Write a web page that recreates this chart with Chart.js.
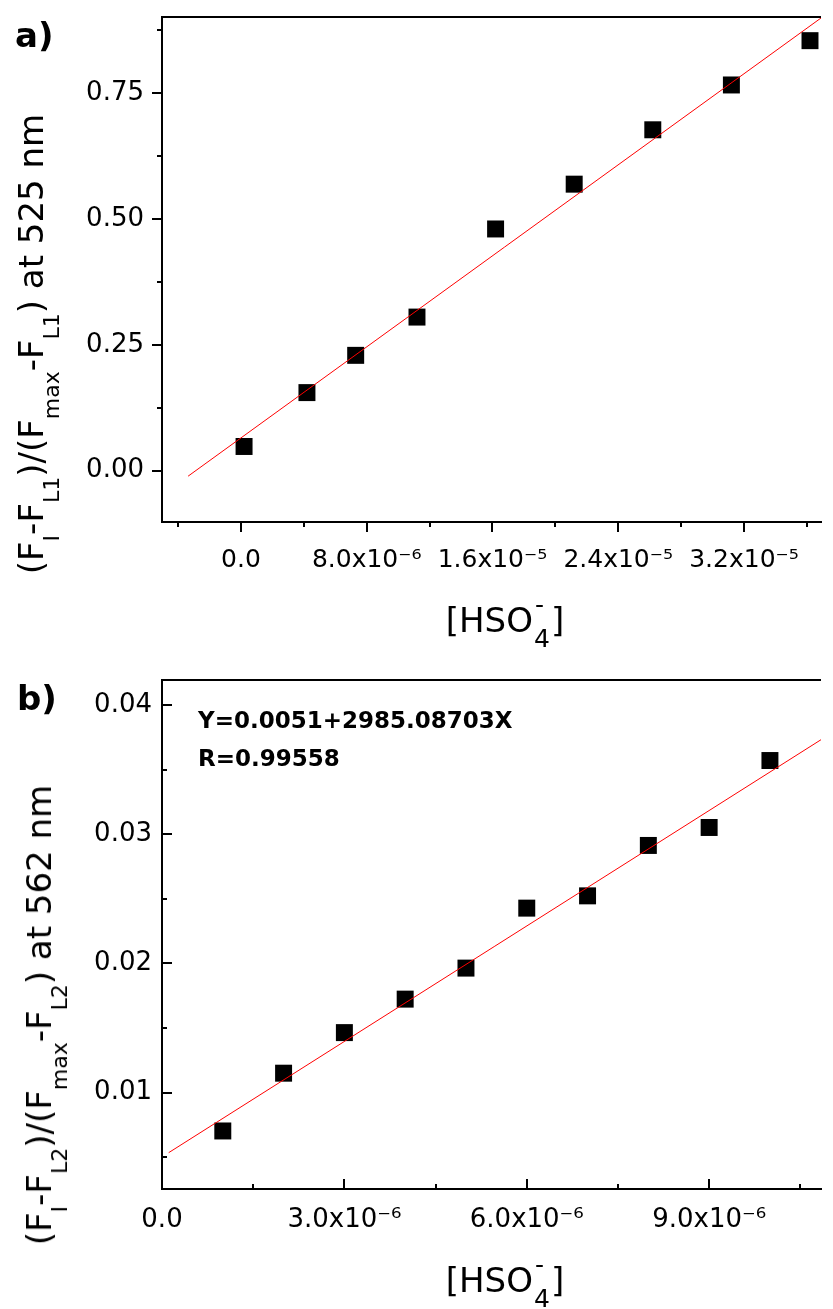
<!DOCTYPE html>
<html lang="en">

<head>
    <meta charset="UTF-8">
    <title>HSO4- titration</title>
    <script src="https://cdn.jsdelivr.net/npm/chart.js"></script>
    <style>
        body { margin: 0; background: #fff; }
        .page { position: relative; width: 833px; height: 1309px; overflow: hidden; font-family: 'DejaVu Sans'; color: #000; }
        .box { position: absolute; left: 0; width: 833px; }
        .pl { position: absolute; font: bold 34px 'DejaVu Sans'; line-height: 1; }
        .yt { position: absolute; font: 34px 'DejaVu Sans'; line-height: 1; white-space: nowrap;
              transform: translate(-50%, -50%) rotate(-90deg); }
        .yt .sb { font-size: 22px; position: relative; top: 16px; }
        .xt { position: absolute; font: 34px 'DejaVu Sans'; line-height: 1; white-space: nowrap; transform: translateX(-50%); }
        .ss { display: inline-block; position: relative; width: 18px; height: 0; }
        .ss span { position: absolute; font-size: 25px; line-height: 1; }
        .ss .up { left: 2px; top: -40px; }
        .ss .dn { left: 1px; top: -6px; }
        .eq { position: absolute; left: 198px; font: bold 23px 'DejaVu Sans'; line-height: 1; white-space: nowrap; }
    </style>
</head>

<body>
    <div class="page">
        <div class="box" style="top:0;height:655px"><canvas id="chartA"></canvas></div>
        <div class="box" style="top:655px;height:654px"><canvas id="chartB"></canvas></div>

        <div class="pl" style="left:15px;top:18px">a)</div>
        <div class="pl" style="left:17px;top:681px">b)</div>

        <div class="yt" style="left:31px;top:344px">(F<span class="sb">I</span>-F<span class="sb">L1</span>)/(F<span class="sb">max</span>-F<span class="sb">L1</span>) at 525 nm</div>
        <div class="yt" style="left:39px;top:1015px">(F<span class="sb">I</span>-F<span class="sb">L2</span>)/(F<span class="sb">max</span>-F<span class="sb">L2</span>) at 562 nm</div>

        <div class="xt" style="left:505px;top:603px">[HSO<span class="ss"><span class="up">-</span><span class="dn">4</span></span>]</div>
        <div class="xt" style="left:505px;top:1263px">[HSO<span class="ss"><span class="up">-</span><span class="dn">4</span></span>]</div>

        <div class="eq" style="top:709px">Y=0.0051+2985.08703X</div>
        <div class="eq" style="top:747px">R=0.99558</div>
    </div>

    <script>
        // panel a) - 525 nm
        const concA = [0.2e-6, 4.2e-6, 7.3e-6, 11.2e-6, 16.2e-6, 21.2e-6, 26.2e-6, 31.2e-6, 36.2e-6];
        const ratioA = [0.048, 0.155, 0.229, 0.305, 0.480, 0.569, 0.677, 0.766, 0.854];
        const fitConcA = [-3.36e-6, 36.9e-6];
        const fitRatioA = [-0.011, 0.899];

        const xTicksA = [0, 8e-6, 1.6e-5, 2.4e-5, 3.2e-5];
        const xLabelsA = ['0.0', '8.0x10⁻⁶', '1.6x10⁻⁵', '2.4x10⁻⁵', '3.2x10⁻⁵'];
        const xMinorA = [-4e-6, 4e-6, 12e-6, 20e-6, 28e-6, 36e-6];
        const yTicksA = [0, 0.25, 0.5, 0.75];
        const yLabelsA = ['0.00', '0.25', '0.50', '0.75'];
        const yMinorA = [0.125, 0.375, 0.625, 0.875];

        // panel b) - 562 nm
        const concB = [1e-6, 2e-6, 3e-6, 4e-6, 5e-6, 6e-6, 7e-6, 8e-6, 9e-6, 10e-6];
        const ratioB = [0.00704, 0.01151, 0.01465, 0.01724, 0.01964, 0.02428, 0.02523, 0.02913, 0.03052, 0.03570];
        const fitConcB = [0.11e-6, 10.84e-6];
        const fitRatioB = [0.00536, 0.03731];

        const xTicksB = [0, 3e-6, 6e-6, 9e-6];
        const xLabelsB = ['0.0', '3.0x10⁻⁶', '6.0x10⁻⁶', '9.0x10⁻⁶'];
        const xMinorB = [1.5e-6, 4.5e-6, 7.5e-6, 10.5e-6];
        const yTicksB = [0.01, 0.02, 0.03, 0.04];
        const yLabelsB = ['0.01', '0.02', '0.03', '0.04'];
        const yMinorB = [0.005, 0.015, 0.025, 0.035];

        Chart.defaults.font.family = 'DejaVu Sans';
        Chart.defaults.color = '#000';

        function toPoints(xs, ys) {
            return xs.map(function (v, i) { return { x: v, y: ys[i] }; });
        }

        // top frame line + minor/major tick marks (Origin style)
        const frameTicks = {
            id: 'frameTicks',
            afterDraw(chart, args, o) {
                const ctx = chart.ctx;
                const a = chart.chartArea;
                const x = chart.scales.x, y = chart.scales.y;
                const s = o.inward ? 1 : -1;
                ctx.save();
                ctx.strokeStyle = '#000';
                ctx.lineWidth = 2;
                ctx.beginPath();
                ctx.moveTo(a.left - 1, a.top);
                ctx.lineTo(a.right, a.top);
                ctx.stroke();

                ctx.beginPath();
                o.xMajor.forEach(function (v) {
                    const p = Math.round(x.getPixelForValue(v));
                    ctx.moveTo(p, a.bottom); ctx.lineTo(p, a.bottom - s * o.major);
                });
                o.xMinor.forEach(function (v) {
                    const p = Math.round(x.getPixelForValue(v));
                    ctx.moveTo(p, a.bottom); ctx.lineTo(p, a.bottom - s * o.minor);
                });
                o.yMajor.forEach(function (v) {
                    const p = Math.round(y.getPixelForValue(v));
                    ctx.moveTo(a.left, p); ctx.lineTo(a.left + s * o.major, p);
                });
                o.yMinor.forEach(function (v) {
                    const p = Math.round(y.getPixelForValue(v));
                    ctx.moveTo(a.left, p); ctx.lineTo(a.left + s * o.minor, p);
                });
                ctx.stroke();
                ctx.restore();
            }
        };

        function noPad(s) {
            s.paddingTop = 0; s.paddingBottom = 0;
            s.paddingLeft = 0; s.paddingRight = 0;
        }

        function makeChart(id, cfg) {
            return new Chart(document.getElementById(id), {
                type: 'scatter',
                data: {
                    datasets: [{
                        data: toPoints(cfg.xs, cfg.ys),
                        pointStyle: 'rect',
                        pointRadius: 12,
                        pointHoverRadius: 12,
                        backgroundColor: '#000',
                        borderWidth: 0,
                        order: 1
                    }, {
                        data: toPoints(cfg.fitX, cfg.fitY),
                        showLine: true,
                        pointRadius: 0,
                        borderColor: '#ff0000',
                        borderWidth: 1,
                        order: 0
                    }]
                },
                options: {
                    responsive: true,
                    maintainAspectRatio: false,
                    animation: false,
                    events: [],
                    layout: { padding: { top: cfg.top, left: 0, right: 0, bottom: 0 } },
                    plugins: {
                        legend: { display: false },
                        tooltip: { enabled: false },
                        frameTicks: {
                            inward: cfg.inward, major: 10, minor: 5,
                            xMajor: cfg.xTicks, xMinor: cfg.xMinor,
                            yMajor: cfg.yTicks, yMinor: cfg.yMinor
                        }
                    },
                    scales: {
                        x: {
                            type: 'linear',
                            min: cfg.xMin, max: cfg.xMax,
                            grid: { display: false, drawTicks: false },
                            border: { display: true, color: '#000', width: 2 },
                            afterBuildTicks: function (s) { s.ticks = cfg.xTicks.map(function (v) { return { value: v }; }); },
                            afterFit: function (s) { s.height = cfg.xHeight; noPad(s); },
                            ticks: {
                                autoSkip: false, maxRotation: 0, padding: cfg.xPad,
                                font: { size: cfg.xFont },
                                callback: function (v) { return cfg.xLabels[cfg.xTicks.indexOf(v)]; }
                            }
                        },
                        y: {
                            min: cfg.yMin, max: cfg.yMax,
                            grid: { display: false, drawTicks: false },
                            border: { display: true, color: '#000', width: 2 },
                            afterBuildTicks: function (s) { s.ticks = cfg.yTicks.map(function (v) { return { value: v }; }); },
                            afterFit: function (s) { s.width = 162; noPad(s); },
                            ticks: {
                                padding: cfg.yPad,
                                font: { size: 26 },
                                callback: function (v) { return cfg.yLabels[cfg.yTicks.indexOf(v)]; }
                            }
                        }
                    }
                },
                plugins: [frameTicks]
            });
        }

        makeChart('chartA', {
            xs: concA, ys: ratioA, fitX: fitConcA, fitY: fitRatioA,
            xMin: -5.02e-6, xMax: 36.9e-6, yMin: -0.102, yMax: 0.901,
            xTicks: xTicksA, xLabels: xLabelsA, xMinor: xMinorA,
            yTicks: yTicksA, yLabels: yLabelsA, yMinor: yMinorA,
            top: 17, xHeight: 133, xPad: 23, yPad: 18, xFont: 25, inward: false
        });

        makeChart('chartB', {
            xs: concB, ys: ratioB, fitX: fitConcB, fitY: fitRatioB,
            xMin: 0, xMax: 10.84e-6, yMin: 0.00255, yMax: 0.04193,
            xTicks: xTicksB, xLabels: xLabelsB, xMinor: xMinorB,
            yTicks: yTicksB, yLabels: yLabelsB, yMinor: yMinorB,
            top: 25, xHeight: 120, xPad: 16, yPad: 10, xFont: 26, inward: true
        });
    </script>
</body>

</html>
